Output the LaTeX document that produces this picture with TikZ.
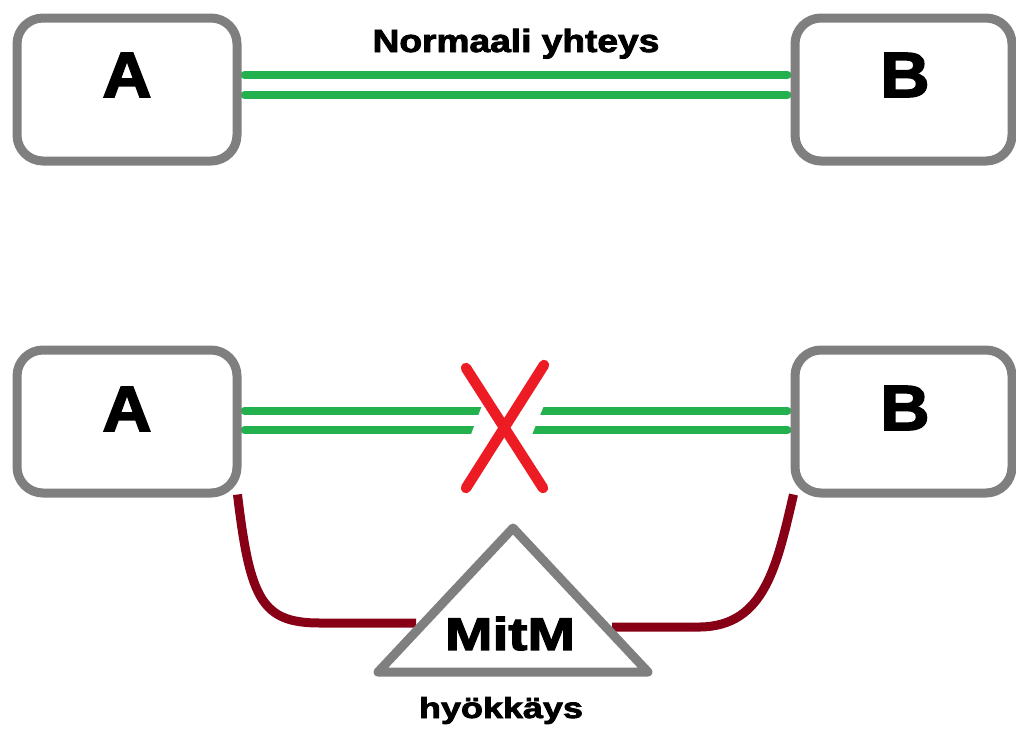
\documentclass[tikz,border=0pt]{standalone}
\usepackage{fontspec}
\usepackage{graphicx}
\setmainfont{Liberation Sans}
\newfontfamily\heavyfont{Liberation Sans Bold}[FakeBold=2.5]
\usetikzlibrary{calc}
\pgfdeclarelayer{background}
\pgfsetlayers{background,main}
\definecolor{boxgray}{HTML}{7F7F7F}
\definecolor{linkgreen}{HTML}{22B14C}
\definecolor{crossred}{HTML}{ED1C24}
\definecolor{attackred}{HTML}{880015}
\newcommand{\heavytext}[3]{\scalebox{#2}[1]{\heavyfont\fontsize{#1}{#1}\selectfont #3}}
\tikzset{
  hostbox/.style={draw=boxgray, line width=9pt, rounded corners=26pt, fill=white,
    minimum height=143pt, inner sep=0pt},
  letter/.style={inner sep=0pt, anchor=center},
  greenlink/.style={draw=linkgreen, line width=8pt, line cap=round},
  crossline/.style={draw=crossred, line width=10.5pt, line cap=round},
  attackline/.style={draw=attackred, line width=9pt},
  tri/.style={draw=boxgray, line width=9pt, line join=round, fill=white},
  caption/.style={inner sep=0pt, anchor=base}
}
\begin{document}
\begin{tikzpicture}[x=1pt, y=-1pt]
\useasboundingbox (0,0) rectangle (1016,729);
% hosts
\node[hostbox, minimum width=220pt] (A1) at (127,89.5) {};
\node[hostbox, minimum width=217pt] (B1) at (903.5,89.5) {};
\node[hostbox, minimum width=220pt] (A2) at (127,421.5) {};
\node[hostbox, minimum width=217pt] (B2) at (903.5,421.5) {};
\begin{pgfonlayer}{background}
% green links (top)
\draw[greenlink] ($(A1.east)+(3,-14.5)$) -- ($(B1.west)+(-3,-14.5)$);
\draw[greenlink] ($(A1.east)+(3,5.5)$) -- ($(B1.west)+(-3,5.5)$);
% green links (bottom)
\draw[greenlink] ($(A2.east)+(3,-11)$) -- ($(B2.west)+(-3,-11)$);
\draw[greenlink] ($(A2.east)+(3,8.5)$) -- ($(B2.west)+(-3,8.5)$);
% gap in the bottom links
\fill[white] (483,403) -- (545,403) -- (531,437) -- (470,437) -- cycle;
\end{pgfonlayer}
% letters
\node[letter] (lA1) at (127,75) {\heavytext{64}{1.06}{A}};
\node[letter] (lB1) at (905,75) {\heavytext{64}{1.06}{B}};
\node[letter] (lA2) at (127,409) {\heavytext{64}{1.06}{A}};
\node[letter] (lB2) at (905,408) {\heavytext{64}{1.06}{B}};
\node[caption] (normal) at (516,52) {\heavytext{32}{1.16}{Normaali yhteys}};
% red cross
\coordinate (x1a) at (466,368);
\coordinate (x1b) at (543,488);
\coordinate (x2a) at (544,365);
\coordinate (x2b) at (466,488);
\draw[crossline] (x1a) -- (x1b);
\draw[crossline] (x2a) -- (x2b);
% attack paths
\coordinate (tl) at (416,623);
\coordinate (tr) at (612,627);
\draw[attackline] ($(A2.south east)+(-4,-3)$) .. controls (250,600) and (262,623) .. (320,623) -- (tl);
\draw[attackline] ($(B2.south west)+(3,-3)$) .. controls (777,565) and (765,626) .. (700,627) -- (tr);
% MitM triangle
\draw[tri] (513,528) -- (648,672) -- (378,672) -- cycle;
\node[letter] (mitm) at (510,633.5) {\heavytext{46}{1.24}{MitM}};
\node[caption] (attack) at (501,718) {\heavytext{29}{1.24}{hyökkäys}};
\end{tikzpicture}
\end{document}
